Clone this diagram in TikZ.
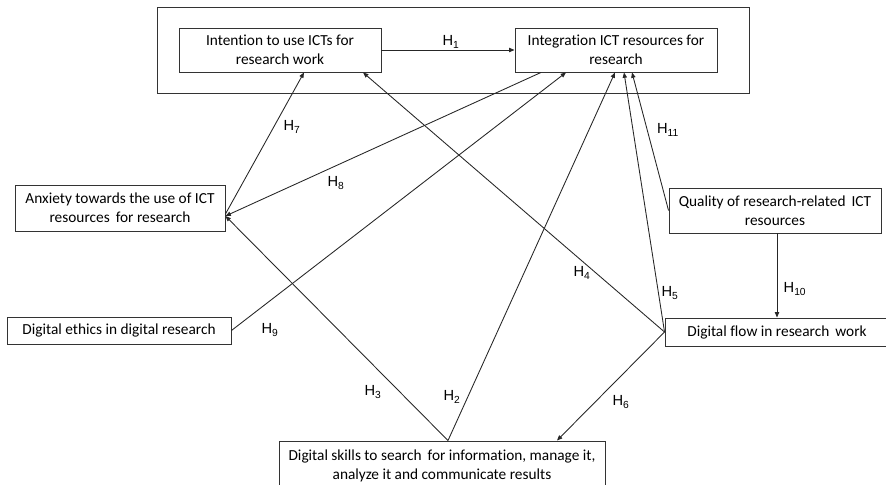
\documentclass[tikz,border=0pt]{standalone}
\usepackage{fontspec}
\setmainfont{Carlito}[Ligatures=NoCommon]
\newfontfamily\hfont{Liberation Sans}
\usetikzlibrary{arrows.meta,calc}

\tikzset{
  box/.style={draw=black!80, rectangle, inner sep=0pt, align=center, line width=0.7pt,
    font=\fontsize{11.5}{14.25}\selectfont},
  link/.style={draw=black!85, line width=0.65pt, -{Triangle[length=4pt,width=3.2pt]}},
  hyp/.style={font=\hfont\fontsize{11}{12}\selectfont, inner sep=0pt},
}

\begin{document}
\begin{tikzpicture}[x=0.75pt,y=-0.75pt]
\useasboundingbox (0,0) rectangle (886,485);

% outer frame round the two outcomes
\node[box, minimum width=444pt, minimum height=64.5pt] (frame) at (453,50) {};

% boxes
\node[box, minimum width=151.5pt, minimum height=33pt] (intent) at (280,50) {Intention to use ICTs for\\research work};
\node[box, minimum width=151.5pt, minimum height=33pt] (integ) at (616,50) {Integration ICT resources for\\research};
\node[box, minimum width=157.5pt, minimum height=34.5pt] (anx) at (120,208) {Anxiety towards the use of ICT\\resources\, for research};
\node[box, minimum width=168pt, minimum height=20.25pt] (ethics) at (119,330.5) {Digital ethics in digital research};
\node[box, minimum width=159pt, minimum height=33.75pt] (quality) at (775,210.5) {Quality of research-related\, ICT\\resources};
\node[box, minimum width=168pt, minimum height=21pt] (flow) at (777,332) {Digital flow in research\, work};
\node[box, minimum width=244.5pt, minimum height=37.5pt] (skills) at (442,466) {Digital skills to search\, for information, manage it,\\analyze it and communicate results};

% helper points
\coordinate (anxin) at ($(anx.east)+(0,8)$);
\coordinate (skillsout) at ($(skills.north)+(6,0)$);
\coordinate (qout) at ($(quality.south)+(2,0)$);

% connectors
\draw[link] (intent.east) -- (integ.west);
\draw[link] ($(anx.east)+(0,6)$) -- ($(intent.south)+(24,0)$);
\draw[link] (flow.west) -- ($(intent.south)+(83,0)$);
\draw[link] ($(integ.south)+(-75,0)$) -- (anxin);
\draw[link] (ethics.east) -- ($(integ.south)+(-50,0)$);
\draw[link] (skillsout) -- ($(integ.south)+(-1,0)$);
\draw[link] (flow.west) -- ($(integ.south)+(8,0)$);
\draw[link] (quality.west) -- ($(integ.south)+(16,0)$);
\draw[link] (skillsout) -- (anxin);
\draw[link] (flow.west) -- ($(skills.north)+(115,0)$);
\draw[link] (qout) -- (qout |- flow.north);

% hypothesis labels
\node[hyp] (h1) at (451,42) {H\textsubscript{1}};
\node[hyp] (h2) at (452,397) {H\textsubscript{2}};
\node[hyp] (h3) at (373,392) {H\textsubscript{3}};
\node[hyp] (h4) at (582,273) {H\textsubscript{4}};
\node[hyp] (h5) at (670,293) {H\textsubscript{5}};
\node[hyp] (h6) at (621,402) {H\textsubscript{6}};
\node[hyp] (h7) at (292,127) {H\textsubscript{7}};
\node[hyp] (h8) at (336,183) {H\textsubscript{8}};
\node[hyp] (h9) at (270,330) {H\textsubscript{9}};
\node[hyp] (h10) at (795,289) {H\textsubscript{10}};
\node[hyp] (h11) at (668,130) {H\textsubscript{11}};
\end{tikzpicture}
\end{document}
